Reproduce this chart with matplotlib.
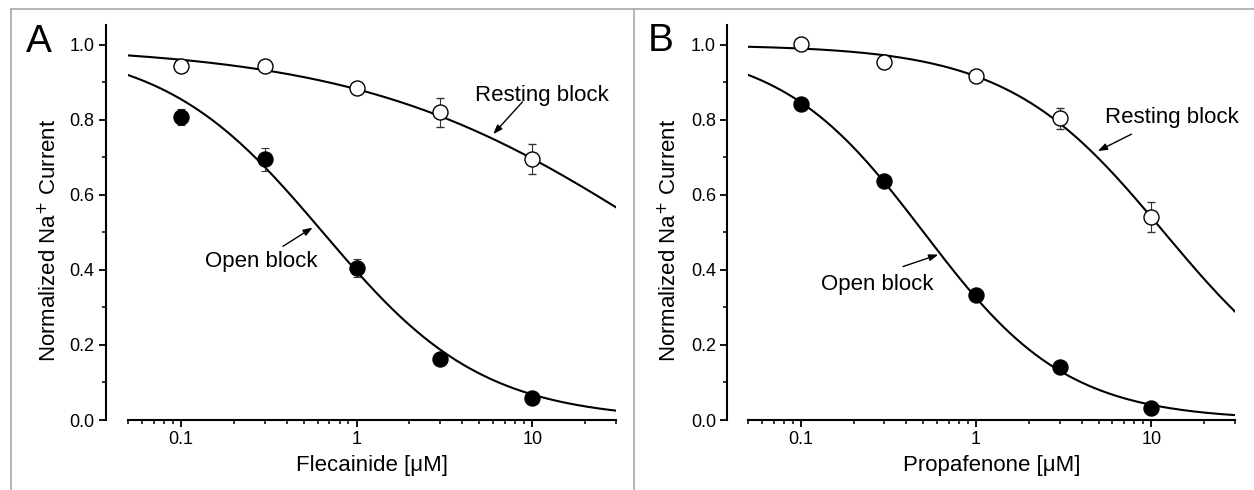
import numpy as np
import matplotlib
matplotlib.use("Agg")
import matplotlib.pyplot as plt
from matplotlib.ticker import FixedLocator, LogLocator, NullFormatter

plt.rcParams['font.family'] = ['Liberation Sans', 'DejaVu Sans']

# ---------------------------------------------------------------------
# data
# ---------------------------------------------------------------------
conc = [0.1, 0.3, 1, 3, 10]          # uM

# A - flecainide
flec_rest = [0.943, 0.945, 0.885, 0.820, 0.695]
flec_rest_err = [0.010, 0.012, 0.015, 0.038, 0.040]
flec_open = [0.808, 0.695, 0.405, 0.162, 0.058]
flec_open_err = [0.022, 0.030, 0.025, 0.008, 0.006]
flec_rest_fit = [50.8, 0.512]        # IC50, Hill coefficient
flec_open_fit = [0.644, 0.954]

# B - propafenone
prop_rest = [1.002, 0.955, 0.918, 0.805, 0.542]
prop_rest_err = [0.012, 0.012, 0.015, 0.028, 0.040]
prop_open = [0.843, 0.638, 0.332, 0.140, 0.033]
prop_open_err = [0.008, 0.008, 0.008, 0.008, 0.006]
prop_rest_fit = [11.84, 0.968]
prop_open_fit = [0.503, 1.059]


def hill(x, p):
    return 1.0 / (1.0 + (x / p[0]) ** p[1])


W, H = 1254, 490
fig = plt.figure(figsize=(W / 100, H / 100), dpi=100)

# grey panel frame
frame = dict(color='#a8a8a8', lw=1.2, transform=fig.transFigure)
fig.add_artist(plt.Line2D([11 / W, 1], [1 - 9 / H, 1 - 9 / H], **frame))
fig.add_artist(plt.Line2D([11 / W, 11 / W], [0, 1 - 9 / H], **frame))
fig.add_artist(plt.Line2D([634 / W, 634 / W], [0, 1 - 9 / H], **frame))

panels = [
    ('A', [128 / W, 70 / H, 488 / W, 395 / H], 16, 'Flecainide [\u03bcM]',
     flec_rest, flec_rest_err, flec_open, flec_open_err, flec_rest_fit, flec_open_fit,
     ((11.3, 0.864), (8.8, 0.848), (6.0, 0.762)),
     ((0.286, 0.422), (0.381, 0.463), (0.562, 0.513)),
     (38.5 / W, 1 - 41.5 / H)),
    ('B', [748 / W, 70 / H, 487 / W, 395 / H], 15, 'Propafenone [\u03bcM]',
     prop_rest, prop_rest_err, prop_open, prop_open_err, prop_rest_fit, prop_open_fit,
     ((13.1, 0.806), (7.7, 0.762), (4.95, 0.717)),
     ((0.274, 0.361), (0.383, 0.409), (0.609, 0.441)),
     (661 / W, 1 - 41 / H)),
]

xfit = np.logspace(np.log10(0.05), np.log10(30), 300)

for (lab, rect, gap, xlabel, rest, rest_err, opn, opn_err, rfit, ofit,
     rann, oann, labpos) in panels:
    ax = fig.add_axes(rect)
    ax.set_xscale('log')
    ax.set_xlim(0.05, 30)
    ax.set_ylim(0, 1.053)

    ax.plot(xfit, hill(xfit, rfit), color='black', lw=1.5, zorder=2)
    ax.plot(xfit, hill(xfit, ofit), color='black', lw=1.5, zorder=2)

    ax.errorbar(conc, rest, yerr=rest_err, fmt='o', ms=10.8, mfc='white',
                mec='black', mew=1.0, ecolor='#333333', elinewidth=0.8,
                capsize=3, capthick=0.8, zorder=3)
    ax.errorbar(conc, opn, yerr=opn_err, fmt='o', ms=10.8, mfc='black',
                mec='black', ecolor='#333333', elinewidth=0.8,
                capsize=3, capthick=0.8, zorder=3)

    arrow = dict(arrowstyle='-|>,head_length=0.55,head_width=0.2', color='black', lw=1.0,
                 shrinkA=0, shrinkB=0)
    ax.text(rann[0][0], rann[0][1], 'Resting block', fontsize=16, ha='center', va='center')
    ax.annotate('', xy=rann[2], xytext=rann[1], arrowprops=arrow)
    ax.text(oann[0][0], oann[0][1], 'Open block', fontsize=16, ha='center', va='center')
    ax.annotate('', xy=oann[2], xytext=oann[1], arrowprops=arrow)

    for s in ('top', 'right'):
        ax.spines[s].set_visible(False)
    ax.spines['left'].set_position(('outward', gap))
    for s in ('left', 'bottom'):
        ax.spines[s].set_linewidth(1.5)

    ax.yaxis.set_major_locator(FixedLocator([0, 0.2, 0.4, 0.6, 0.8, 1.0]))
    ax.yaxis.set_minor_locator(FixedLocator([0.1, 0.3, 0.5, 0.7, 0.9]))
    ax.set_yticklabels(['0.0', '0.2', '0.4', '0.6', '0.8', '1.0'])
    ax.xaxis.set_major_locator(FixedLocator([0.1, 1, 10]))
    ax.set_xticklabels(['0.1', '1', '10'])
    ax.xaxis.set_minor_locator(LogLocator(base=10, subs=np.arange(2, 10)))
    ax.xaxis.set_minor_formatter(NullFormatter())
    ax.tick_params(which='major', length=5, width=1.3, labelsize=13, pad=3)
    ax.tick_params(which='minor', length=3, width=1.1)

    ax.set_xlabel(xlabel, fontsize=16)
    ax.xaxis.set_label_coords(0.5, -0.088)
    ax.set_ylabel('Normalized Na$^{+}$ Current', fontsize=16)
    ax.yaxis.set_label_coords(-0.137, 0.456)

    fig.text(labpos[0], labpos[1], lab, fontsize=28, ha='center', va='center')

fig.savefig('out.png', dpi=100)
